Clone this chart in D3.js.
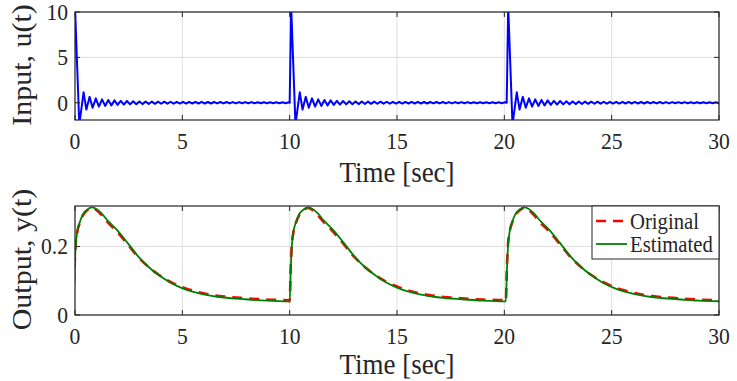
<!DOCTYPE html>
<html>
<head>
<meta charset="utf-8">
<script src="https://cdn.jsdelivr.net/npm/d3@7"></script>
<style>
  html, body { margin: 0; padding: 0; background: #fff; }
  svg { display: block; }
</style>
</head>
<body>
<div id="chart"></div>
<script>
// ---- data ----
const xTicks = [0, 5, 10, 15, 20, 25, 30];
const uTicks = [0, 5, 10];
const yTicks = [0, 0.2];

// input: one pulse response, repeated at each pulse peak
const uPeaks = [0, 10.07, 20.18];
const uHead = [[-0.07, 0], [0, 10.6], [0.2, -2.4], [0.4, 1.15], [0.53, -0.75], [0.68, 0.65], [0.82, -0.55], [0.97, 0.48]];
const uTailStep = 0.145;
const uTail = [-0.42, 0.38, -0.35, 0.31, -0.29, 0.26, -0.24, 0.22, -0.2, 0.19, -0.18, 0.17, -0.16, 0.15,
  -0.15, 0.14, -0.13, 0.13, -0.12, 0.12, -0.11, 0.12, -0.1, 0.11, -0.1, 0.1, -0.09, 0.1, -0.09, 0.09,
  -0.08, 0.09, -0.08, 0.09, -0.08, 0.08, -0.08, 0.08, -0.07, 0.08, -0.07, 0.08, -0.07, 0.07, -0.07, 0.07,
  -0.06, 0.07, -0.06, 0.07, -0.06, 0.06, -0.06, 0.06, -0.06, 0.06, -0.05, 0.06, -0.05, 0.06, -0.05, 0.05,
  -0.05, 0.05];

// output: response after each pulse onset
const yOnsets = [-0.07, 10.0, 20.07];
const yRelT = [0, 0.05, 0.1, 0.17, 0.3, 0.45, 0.65, 0.85, 1.05, 1.3, 1.6, 2.0, 2.5, 3.0, 3.5, 4.0, 4.5, 5.0, 5.5, 6.0, 6.5, 7.0, 8.0, 9.0, 10.0];
const yEst  = [0.04, 0.13, 0.2, 0.24, 0.272, 0.295, 0.308, 0.314, 0.31, 0.297, 0.275, 0.25, 0.212, 0.172, 0.14, 0.115, 0.095, 0.08, 0.069, 0.061, 0.055, 0.051, 0.046, 0.042, 0.04];
const yOrig = [0.04, 0.14, 0.205, 0.24, 0.27, 0.292, 0.306, 0.312, 0.307, 0.292, 0.27, 0.245, 0.208, 0.17, 0.14, 0.116, 0.097, 0.083, 0.072, 0.064, 0.058, 0.054, 0.049, 0.045, 0.043];

// ---- build series ----
const uShape = uHead.concat(uTail.map((v, i) => [uHead[uHead.length - 1][0] + (i + 1) * uTailStep, v]));
const uSeries = [];
uPeaks.forEach((p, k) => {
  const next = k < uPeaks.length - 1 ? uPeaks[k + 1] - 0.07 : Infinity;
  uShape.forEach(([t, v]) => { if (p + t < next) uSeries.push([p + t, v]); });
});

function ySeries(vals) {
  const out = [];
  yOnsets.forEach((o) => yRelT.forEach((t, i) => out.push([o + t, vals[i]])));
  return out;
}
const estSeries = ySeries(yEst);
const origSeries = ySeries(yOrig);

// ---- layout ----
const W = 737, H = 381;
const SX = 0.9;               // glyphs in the figure are a bit narrow
const TICK_FS = 24, LABEL_FS = 30, LEGEND_FS = 23;
const FONT = "'Liberation Serif', 'Times New Roman', 'DejaVu Serif', serif";
const axisColor = "#262626", gridColor = "#dfdfdf";

const svg = d3.select("#chart").append("svg").attr("width", W).attr("height", H);

function text(g, x, y, s, size, anchor, rotate) {
  return g.append("text")
    .attr("transform", `translate(${x},${y}) scale(${SX},1)` + (rotate ? " rotate(-90)" : ""))
    .attr("text-anchor", anchor)
    .attr("font-family", FONT)
    .attr("font-size", size)
    .attr("fill", axisColor)
    .text(s);
}

function panel(id, box, yDomain, yT, yFmt, ylabel, xlabelY) {
  const x = d3.scaleLinear().domain([0, 30]).range([box.left, box.right]);
  const y = d3.scaleLinear().domain(yDomain).range([box.bottom, box.top]);
  const g = svg.append("g");

  g.append("rect").attr("x", box.left).attr("y", box.top)
    .attr("width", box.right - box.left).attr("height", box.bottom - box.top).attr("fill", "#fff");

  // grid
  g.selectAll(".gx").data(xTicks).join("line")
    .attr("x1", d => x(d)).attr("x2", d => x(d)).attr("y1", box.top).attr("y2", box.bottom)
    .attr("stroke", gridColor).attr("stroke-width", 1);
  g.selectAll(".gy").data(yT).join("line")
    .attr("x1", box.left).attr("x2", box.right).attr("y1", d => y(d)).attr("y2", d => y(d))
    .attr("stroke", gridColor).attr("stroke-width", 1);

  g.append("clipPath").attr("id", "clip-" + id).append("rect")
    .attr("x", box.left).attr("y", box.top)
    .attr("width", box.right - box.left).attr("height", box.bottom - box.top);

  const plot = g.append("g").attr("clip-path", `url(#clip-${id})`);

  // ticks (inward, all four sides)
  const tl = 5;
  xTicks.forEach(d => {
    g.append("line").attr("x1", x(d)).attr("x2", x(d)).attr("y1", box.bottom).attr("y2", box.bottom - tl)
      .attr("stroke", axisColor);
    g.append("line").attr("x1", x(d)).attr("x2", x(d)).attr("y1", box.top).attr("y2", box.top + tl)
      .attr("stroke", axisColor);
    text(g, x(d), box.bottom + 29, d, TICK_FS, "middle");
  });
  yT.forEach(d => {
    g.append("line").attr("x1", box.left).attr("x2", box.left + tl).attr("y1", y(d)).attr("y2", y(d))
      .attr("stroke", axisColor);
    g.append("line").attr("x1", box.right).attr("x2", box.right - tl).attr("y1", y(d)).attr("y2", y(d))
      .attr("stroke", axisColor);
    text(g, box.left - 7, y(d) + 8, yFmt(d), TICK_FS, "end");
  });

  text(g, (box.left + box.right) / 2, xlabelY, "Time [sec]", LABEL_FS, "middle");
  text(g, 31, (box.top + box.bottom) / 2 - 1, ylabel, LABEL_FS, "middle", true);

  return { x, y, g, plot, box };
}

// ---- top: input ----
const topP = panel("u", { left: 75, right: 719, top: 12, bottom: 120 }, [-1.9, 10], uTicks, d => d, "Input, u(t)", 182);
topP.plot.append("path").datum(uSeries)
  .attr("fill", "none").attr("stroke", "#0000ff").attr("stroke-width", 2).attr("stroke-linejoin", "round")
  .attr("d", d3.line().x(d => topP.x(d[0])).y(d => topP.y(d[1])));
topP.g.append("rect").attr("x", 75).attr("y", 12).attr("width", 644).attr("height", 108)
  .attr("fill", "none").attr("stroke", axisColor).attr("stroke-width", 1.2);

// ---- bottom: output ----
const botP = panel("y", { left: 75, right: 719, top: 206, bottom: 315 }, [0, 0.318], yTicks,
  d => d === 0 ? "0" : d3.format(".1f")(d), "Output, y(t)", 374);
const yLine = d3.line().x(d => botP.x(d[0])).y(d => botP.y(d[1])).curve(d3.curveMonotoneX);
botP.plot.append("path").datum(origSeries)
  .attr("fill", "none").attr("stroke", "#ff0000").attr("stroke-width", 2.6).attr("stroke-dasharray", "10,7")
  .attr("d", yLine);
botP.plot.append("path").datum(estSeries)
  .attr("fill", "none").attr("stroke", "#008000").attr("stroke-width", 1.8)
  .attr("d", yLine);
botP.g.append("rect").attr("x", 75).attr("y", 206).attr("width", 644).attr("height", 109)
  .attr("fill", "none").attr("stroke", axisColor).attr("stroke-width", 1.2);

// ---- legend ----
const legendItems = [
  { name: "Original", color: "#ff0000", width: 2.6, dash: "10,7" },
  { name: "Estimated", color: "#008000", width: 1.8, dash: null }
];
const lg = svg.append("g");
lg.append("rect").attr("x", 592).attr("y", 206).attr("width", 127).attr("height", 53)
  .attr("fill", "#fff").attr("stroke", axisColor).attr("stroke-width", 1);
legendItems.forEach((it, i) => {
  const ly = 221 + i * 23;
  lg.append("line").attr("x1", 596).attr("x2", 627).attr("y1", ly).attr("y2", ly)
    .attr("stroke", it.color).attr("stroke-width", it.width).attr("stroke-dasharray", it.dash);
  text(lg, 630, ly + 8, it.name, LEGEND_FS, "start");
});
</script>
</body>
</html>
